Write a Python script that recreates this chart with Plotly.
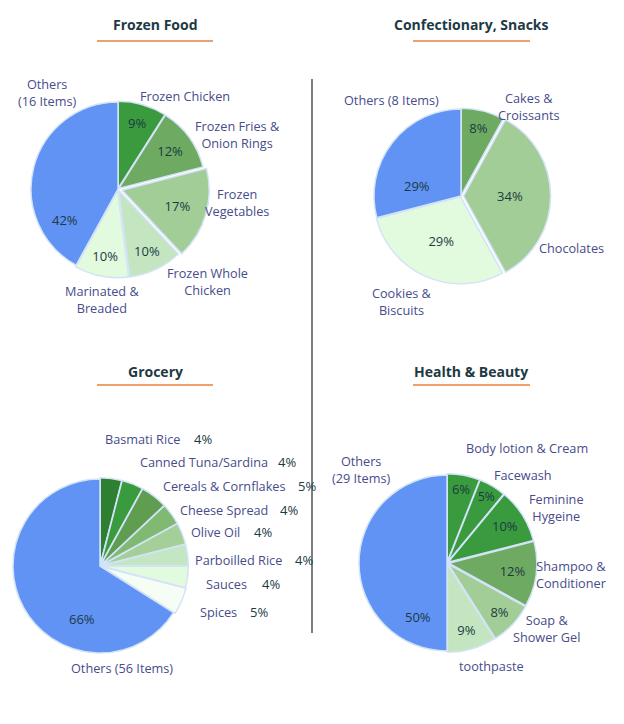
import plotly.graph_objects as go

W, H = 624, 724

# ---------------- data ----------------
ff_labels = ["Frozen Chicken", "Frozen Fries & Onion Rings", "Frozen Vegetables",
             "Frozen Whole Chicken", "Marinated & Breaded", "Others (16 Items)"]
ff_values = [9, 12, 17, 10, 10, 42]

cs_labels = ["Cakes & Croissants", "Chocolates", "Cookies & Biscuits", "Others (8 Items)"]
cs_values = [8, 34, 29, 29]

gr_labels = ["Basmati Rice", "Canned Tuna/Sardina", "Cereals & Cornflakes", "Cheese Spread",
             "Olive Oil", "Parboilled Rice", "Sauces", "Spices", "Others (56 Items)"]
gr_values = [4, 4, 5, 4, 4, 4, 4, 5, 66]

hb_labels = ["Body lotion & Cream", "Facewash", "Feminine Hygeine", "Shampoo & Conditioner",
             "Soap & Shower Gel", "toothpaste", "Others (29 Items)"]
hb_values = [6, 5, 10, 12, 8, 9, 50]

titles = ["Frozen Food", "Confectionary, Snacks", "Grocery", "Health & Beauty"]

# ---------------- styles ----------------
BLUE = "#6093f4"
LABEL_C = "#474c8b"
PCT_C = "#1c3a44"
TITLE_C = "#1d3a44"
ORANGE = "#e8823a"
FONT = "Open Sans"

ff_colors = ["#3a9a3e", "#6faa62", "#a2cd96", "#c3e6c0", "#e2fbdf", BLUE]
cs_colors = ["#6faa62", "#a2cd96", "#e2fbdf", BLUE]
gr_colors = ["#2e7f31", "#3a9a3e", "#5f9e50", "#7fb972", "#a5cf98", "#c5e6c2",
             "#e2fbdf", "#f6fdf5", BLUE]
hb_colors = ["#3a9a3e", "#3a9a3e", "#3a9a3e", "#6faa62", "#a2cd96", "#c3e6c0", BLUE]

ff_pull = [0.01, 0.01, 0.05, 0.02, 0.02, 0.0]
cs_pull = [0.01, 0.03, 0.01, 0.0]
gr_pull = [0.015, 0.015, 0.015, 0.015, 0.015, 0.015, 0.015, 0.02, 0.0]
hb_pull = [0.015, 0.015, 0.015, 0.02, 0.02, 0.015, 0.0]


def dom(cx, cy, r, pull):
    s = r * (1 + max(pull))
    return dict(x=[(cx - s) / W, (cx + s) / W], y=[1 - (cy + s) / H, 1 - (cy - s) / H])


def pie(labels, values, colors, pull, cx, cy, r, textpos):
    return go.Pie(
        labels=labels, values=values, sort=False, direction="clockwise", rotation=0,
        marker=dict(colors=colors, line=dict(color="#d3e3f8", width=1.5)),
        pull=pull, texttemplate="%{value}%", textposition=textpos,
        insidetextorientation="horizontal",
        textfont=dict(family=FONT, size=13, color=PCT_C),
        domain=dom(cx, cy, r, pull), showlegend=False, hoverinfo="label+value",
    )


fig = go.Figure()
fig.add_trace(pie(ff_labels, ff_values, ff_colors, ff_pull, 118, 189, 87,
                  ["inside"] * 5 + ["none"]))
fig.add_trace(pie(cs_labels, cs_values, cs_colors, cs_pull, 461, 196, 87,
                  ["inside"] * 3 + ["none"]))
fig.add_trace(pie(gr_labels, gr_values, gr_colors, gr_pull, 100, 566, 87,
                  ["none"] * 9))
fig.add_trace(pie(hb_labels, hb_values, hb_colors, hb_pull, 447, 563, 88,
                  ["inside"] * 6 + ["none"]))

ann = []


def txt(x, y, text, color=LABEL_C, anchor="center", size=12.7, bold=False):
    if bold:
        text = "<b>" + text + "</b>"
    ann.append(dict(x=x / W, y=1 - y / H, xref="paper", yref="paper", text=text,
                    showarrow=False, xanchor=anchor, yanchor="middle",
                    font=dict(family=FONT, size=size, color=color)))


# titles
for (x, y), t in zip([(155, 24), (471, 24), (155, 371), (471, 371)], titles):
    txt(x, y, t, color=TITLE_C, size=14, bold=True)

# "Others" slice percentages (placed like the original, lower in the slice)
txt(65, 220, f"{ff_values[5]}%", color=PCT_C, size=13)
txt(417, 186, f"{cs_values[3]}%", color=PCT_C, size=13)
txt(82, 619, f"{gr_values[8]}%", color=PCT_C, size=13)
txt(418, 617, f"{hb_values[6]}%", color=PCT_C, size=13)

# Frozen food labels
txt(47, 93, "Others<br>(16 Items)")
txt(185, 96, ff_labels[0])
txt(237, 134, "Frozen Fries &<br>Onion Rings")
txt(237, 203, "Frozen<br>Vegetables")
txt(207, 281, "Frozen Whole<br>Chicken")
txt(102, 300, "Marinated &<br>Breaded")

# Confectionary labels
txt(391, 100, cs_labels[3])
txt(529, 106, "Cakes &<br>Croissants")
txt(571, 248, cs_labels[1])
txt(402, 301, "Cookies &<br>Biscuits")

# Grocery labels (name + value)
gr_pos = [(103, 192, 439), (138, 276, 462), (161, 296, 486), (178, 278, 510),
          (189, 252, 532), (193, 293, 560), (204, 260, 584), (198, 248, 612)]
for (xl, xp, y), lab, v in zip(gr_pos, gr_labels[:8], gr_values[:8]):
    txt(xl, y, lab, anchor="left")
    txt(xp, y, f"{v}%", color=PCT_C, anchor="left", size=13)
txt(122, 668, gr_labels[8])

# Health & Beauty labels
txt(361, 469, "Others<br>(29 Items)")
txt(527, 448, hb_labels[0])
txt(523, 475, hb_labels[1])
txt(556, 507, "Feminine<br>Hygeine")
txt(571, 574, "Shampoo &<br>Conditioner")
txt(546, 628, "Soap &<br>Shower Gel")
txt(491, 666, hb_labels[5])

shapes = []
for x0, x1, y in [(97, 213, 41), (413, 530, 41), (97, 213, 385), (413, 530, 385)]:
    shapes.append(dict(type="line", xref="paper", yref="paper", x0=x0 / W, x1=x1 / W,
                       y0=1 - y / H, y1=1 - y / H, line=dict(color=ORANGE, width=1.6)))
shapes.append(dict(type="line", xref="paper", yref="paper", x0=312 / W, x1=312 / W,
                   y0=1 - 79 / H, y1=1 - 633 / H, line=dict(color="#3a3a3a", width=1.3)))

fig.update_layout(width=W, height=H, margin=dict(l=0, r=0, t=0, b=0),
                  paper_bgcolor="white", plot_bgcolor="white",
                  annotations=ann, shapes=shapes, font=dict(family=FONT))

fig.write_html("out.html", config={"displayModeBar": False},
               post_script="document.body.style.margin='0';document.body.style.overflow='hidden';")
